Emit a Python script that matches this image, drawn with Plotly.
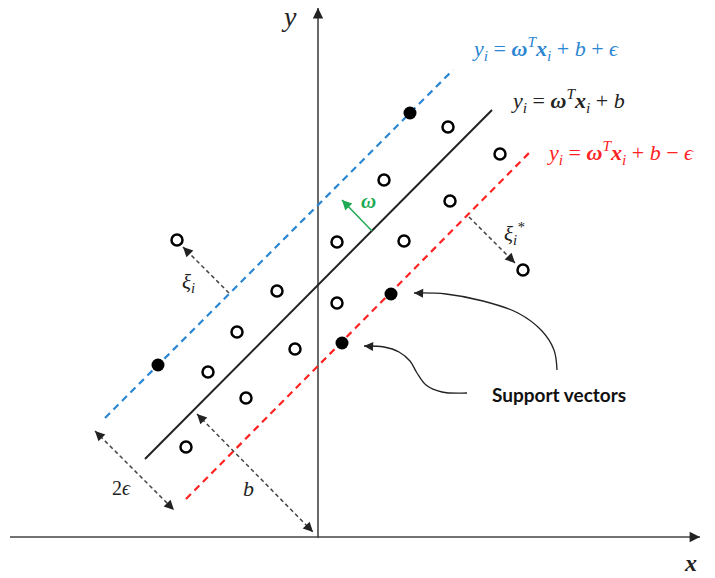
import plotly.graph_objects as go
import math

# ---- data (diagram units: origin at axis crossing, 1 unit = 1 px, y up) ----
open_x = [-141, -81, -41, -110, -72, -132, -23, 19, 19, 66, 86, 132, 130, 182, 205]
open_y = [297, 205, 246, 165, 139, 90, 188, 295, 234, 357, 296, 336, 410, 383, 267]
sv_x = [92, -160, 73, 24]
sv_y = [424, 172, 243, 194]

upper_x = [-213, 135]
upper_y = [119, 467]
mid_x = [-173, 174]
mid_y = [78, 427]
lower_x = [-132, 212]
lower_y = [38, 385]

xaxis_x = [-308, 382]
xaxis_y = [0, 0]
yaxis_x = [0, 0]
yaxis_y = [-1, 529]

omega_x = [54, 24]
omega_y = [306, 337]
xi_x = [-89, -135]
xi_y = [244, 290]
xistar_x = [151, 197]
xistar_y = [320, 274]
eps_x = [-223, -144]
eps_y = [106, 27]
b_x = [-121, -5]
b_y = [123, 5]

curve1_x = [239, 236, 224, 200, 165, 128, 96]
curve1_y = [167, 187, 206, 224, 236, 243, 244]
curve2_x = [149, 124, 108, 99, 92, 81, 66, 46]
curve2_y = [144, 145, 152, 164, 176, 185, 190, 191]

BLUE = "#2b86d2"
RED = "#ff2222"
GREEN = "#1faa55"
DARK = "#222222"
AXIS = "#444444"

fig = go.Figure()

def line(xs, ys, color, width, dash="solid", shape="linear"):
    fig.add_trace(go.Scatter(x=xs, y=ys, mode="lines", hoverinfo="skip",
                             line=dict(color=color, width=width, dash=dash, shape=shape),
                             showlegend=False))

heads = []
def head(xs, ys, idx_from, idx_to, color, width=1.5, size=1.3):
    x0, y0 = xs[idx_from], ys[idx_from]
    x1, y1 = xs[idx_to], ys[idx_to]
    d = math.hypot(x1 - x0, y1 - y0)
    ux, uy = (x1 - x0) / d, (y1 - y0) / d
    heads.append(dict(x=x1, y=y1, ax=x1 - ux * 6, ay=y1 - uy * 6,
                      xref="x", yref="y", axref="x", ayref="y", text="",
                      showarrow=True, arrowhead=2, arrowsize=size,
                      arrowwidth=width, arrowcolor=color, standoff=0))

# axes
line(xaxis_x, xaxis_y, AXIS, 1.6)
line(yaxis_x, yaxis_y, AXIS, 1.6)
head(xaxis_x, xaxis_y, 0, 1, DARK, 1.6, 1.3)
head(yaxis_x, yaxis_y, 0, 1, DARK, 1.6, 1.3)

# regression lines
line(upper_x, upper_y, BLUE, 2.2, "7px,5px")
line(mid_x, mid_y, DARK, 2)
line(lower_x, lower_y, RED, 2.2, "7px,5px")

# dashed arrows
for ax_, ay_, both in [(xi_x, xi_y, False), (xistar_x, xistar_y, False),
                       (eps_x, eps_y, True), (b_x, b_y, True)]:
    line(ax_, ay_, "#444444", 1.5, "4px,3px")
    head(ax_, ay_, 0, 1, DARK, 1.5, 1.3)
    if both:
        head(ax_, ay_, 1, 0, DARK, 1.5, 1.3)

# omega arrow
line(omega_x, omega_y, GREEN, 1.5)
head(omega_x, omega_y, 0, 1, GREEN, 1.5, 1.3)

# curved arrows
line(curve1_x, curve1_y, DARK, 1.3, shape="spline")
line(curve2_x, curve2_y, DARK, 1.3, shape="spline")
head(curve1_x, curve1_y, -2, -1, DARK, 1.4, 1.3)
head(curve2_x, curve2_y, -2, -1, DARK, 1.4, 1.3)

# points
fig.add_trace(go.Scatter(x=open_x, y=open_y, mode="markers", hoverinfo="skip",
                         marker=dict(symbol="circle-open", size=11, color="#000000",
                                     line=dict(width=2.5, color="#000000")),
                         showlegend=False))
fig.add_trace(go.Scatter(x=sv_x, y=sv_y, mode="markers", hoverinfo="skip",
                         marker=dict(symbol="circle", size=13, color="#000000"),
                         showlegend=False))

SERIF = "Liberation Serif, serif"
eq_core = "<i>y<sub>i</sub></i> = <b><i>ω</i></b><sup><i>T</i></sup><b><i>x</i></b><sub><i>i</i></sub> + <i>b</i>"

texts = [
    (152, 489, eq_core + " + <i>ϵ</i>", BLUE, 22, "left", SERIF),
    (191, 437, eq_core, DARK, 22, "left", SERIF),
    (227, 385, eq_core + " − <i>ϵ</i>", RED, 22, "left", SERIF),
    (50, 336, "<b><i>ω</i></b>", GREEN, 21, "center", SERIF),
    (-130, 254, "<i>ξ<sub>i</sub></i>", DARK, 21, "center", SERIF),
    (196, 304, "<i>ξ<sub>i</sub><sup>*</sup></i>", DARK, 21, "center", SERIF),
    (-197, 49, "2<i>ϵ</i>", DARK, 20, "center", SERIF),
    (-70, 49, "<i>b</i>", DARK, 22, "center", SERIF),
    (-29, 521, "<i>y</i>", DARK, 28, "center", SERIF),
    (372, -26, "<b><i>x</i></b>", DARK, 24, "center", SERIF),
    (241, 143, "<b>Support vectors</b>", "#111111", 19, "center", "Lato"),
]
anns = []
for x, y, t, c, s, al, fam in texts:
    anns.append(dict(x=x, y=y, xref="x", yref="y", text=t, showarrow=False,
                     xanchor=al, yanchor="middle",
                     font=dict(family=fam, size=s, color=c)))

fig.update_layout(
    width=715, height=578,
    margin=dict(l=0, r=0, t=0, b=0),
    paper_bgcolor="white", plot_bgcolor="white",
    xaxis=dict(range=[-318, 397], visible=False, fixedrange=True),
    yaxis=dict(range=[-41, 537], visible=False, fixedrange=True),
    annotations=anns + heads,
    showlegend=False,
)

fig.write_html("out.html")
